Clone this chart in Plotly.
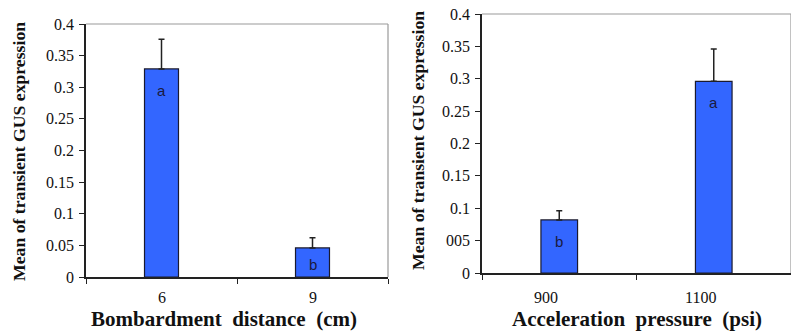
import plotly.graph_objects as go

# ---- data ----
dist_labels = ["6", "9"]
dist_means = [0.329, 0.046]
dist_err = [0.047, 0.016]
dist_letters = ["a", "b"]

press_labels = ["900", "1100"]
press_means = [0.082, 0.296]
press_err = [0.014, 0.050]
press_letters = ["b", "a"]

y_tickvals = [0, 0.05, 0.1, 0.15, 0.2, 0.25, 0.3, 0.35, 0.4]
left_ticktext = ["0", "0.05", "0.1", "0.15", "0.2", "0.25", "0.3", "0.35", "0.4"]
right_ticktext = ["0", "005", "0.1", "0.15", "0.2", "0.25", "0.3", "0.35", "0.4"]

W, H = 791, 331
BAR = "#3366FF"
EDGE = "#1a1a2e"
SERIF = "'Liberation Serif', 'Times New Roman', 'DejaVu Serif', serif"

fig = go.Figure()
fig.add_trace(go.Bar(x=dist_labels, y=dist_means, xaxis="x", yaxis="y",
                     width=0.225, marker=dict(color=BAR, line=dict(color=EDGE, width=1.2)),
                     error_y=dict(type="data", symmetric=False, array=dist_err,
                                  arrayminus=[0, 0], color="#222", thickness=1.5, width=3),
                     showlegend=False))
fig.add_trace(go.Bar(x=press_labels, y=press_means, xaxis="x2", yaxis="y2",
                     width=0.237, marker=dict(color=BAR, line=dict(color=EDGE, width=1.2)),
                     error_y=dict(type="data", symmetric=False, array=press_err,
                                  arrayminus=[0, 0], color="#222", thickness=1.5, width=3),
                     showlegend=False))

def px_x(p):
    return p / W

def px_y(p):
    return 1 - p / H

xaxis_common = dict(type="category", range=[-0.5, 1.5], autorange=False, automargin=False,
                    showline=True, linecolor="#222", linewidth=1.5,
                    ticks="outside", tickson="boundaries", ticklen=5, tickcolor="#222",
                    showgrid=False, showticklabels=False, zeroline=False)
yaxis_common = dict(range=[0, 0.4], autorange=False, automargin=False,
                    showline=True, linecolor="#222", linewidth=1.5,
                    ticks="outside", ticklen=5, tickcolor="#222", showgrid=False,
                    zeroline=False, tickvals=y_tickvals,
                    tickfont=dict(family=SERIF, size=16, color="#111"), ticklabelstandoff=2)

fig.update_layout(
    width=W, height=H, margin=dict(l=0, r=0, t=0, b=0, pad=0, autoexpand=False),
    paper_bgcolor="white", plot_bgcolor="white",
    xaxis=dict(domain=[px_x(86), px_x(388)], anchor="y", **xaxis_common),
    yaxis=dict(domain=[px_y(277), px_y(24)], anchor="x", ticktext=left_ticktext, **yaxis_common),
    xaxis2=dict(domain=[px_x(482), 1.0], anchor="y2", **xaxis_common),
    yaxis2=dict(domain=[px_y(273), px_y(14)], anchor="x2", ticktext=right_ticktext, **yaxis_common),
)

# gray frame top/right
for xr, yr in [("x", "y"), ("x2", "y2")]:
    fig.add_shape(type="line", xref=f"{xr} domain", yref=f"{yr} domain",
                  x0=0, x1=1, y0=1, y1=1, line=dict(color="#999", width=1.2))
    fig.add_shape(type="line", xref=f"{xr} domain", yref=f"{yr} domain",
                  x0=1, x1=1, y0=0, y1=1, line=dict(color="#999", width=1.2))

ann = []
C = dict(xanchor="center", yanchor="middle", showarrow=False)
# letters on bars (category index positions)
for labs, means, lets, xr, yr in [(dist_labels, dist_means, dist_letters, "x", "y"),
                                  (press_labels, press_means, press_letters, "x2", "y2")]:
    for i, (m, l) in enumerate(zip(means, lets)):
        ann.append(dict(x=i, y=m, xref=xr, yref=yr, text=l, showarrow=False,
                        xanchor="center", yanchor="top", yshift=-11 if m > 0.06 else -6,
                        font=dict(family="'Liberation Sans', Arial, sans-serif", size=15, color="#1a1a40")))
# category tick labels
for i, c in enumerate(dist_labels):
    ann.append(dict(x=i, xref="x", y=px_y(297), yref="paper", text=c,
                    font=dict(family=SERIF, size=16, color="#111"), **C))
for i, c in enumerate(press_labels):
    ann.append(dict(x=i, xref="x2", y=px_y(297), yref="paper", text=c, xshift=-13,
                    font=dict(family=SERIF, size=16, color="#111"), **C))
# axis titles
ann.append(dict(x=px_x(19), y=px_y(152), xref="paper", yref="paper", textangle=-90,
                text="<b>Mean of transient GUS expression</b>",
                font=dict(family=SERIF, size=17.7, color="#111"), **C))
ann.append(dict(x=px_x(418), y=px_y(140), xref="paper", yref="paper", textangle=-90,
                text="<b>Mean of transient GUS expression</b>",
                font=dict(family=SERIF, size=17.7, color="#111"), **C))
ann.append(dict(x=px_x(224), y=px_y(319), xref="paper", yref="paper",
                text="<b>Bombardment  distance  (cm)</b>",
                font=dict(family=SERIF, size=21, color="#111"), **C))
ann.append(dict(x=px_x(637), y=px_y(319), xref="paper", yref="paper",
                text="<b>Acceleration  pressure  (psi)</b>",
                font=dict(family=SERIF, size=21, color="#111"), **C))
fig.update_layout(annotations=ann)

fig.write_html("out.html")
